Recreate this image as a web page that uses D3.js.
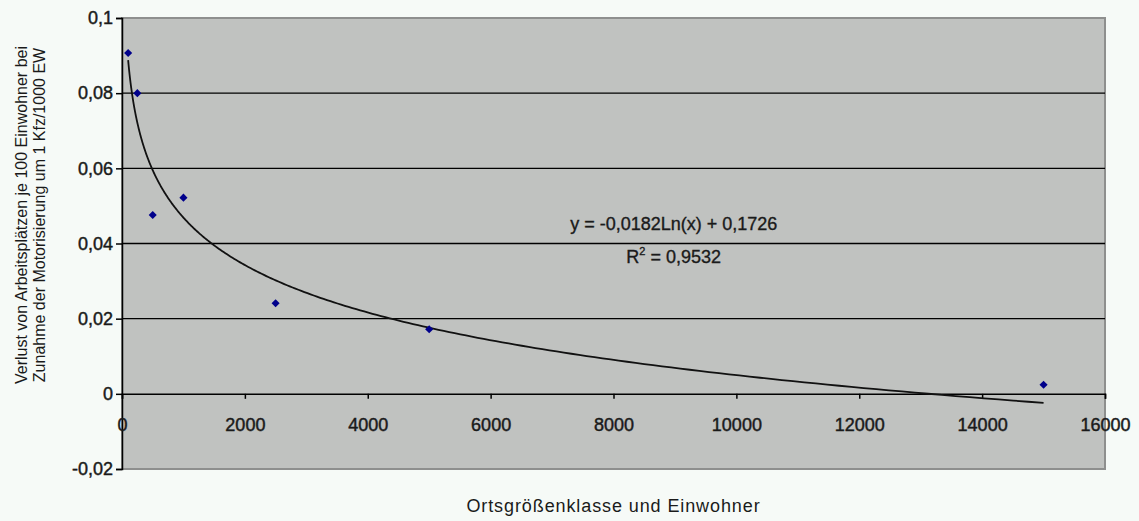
<!DOCTYPE html>
<html>
<head>
<meta charset="utf-8">
<script src="https://cdn.jsdelivr.net/npm/d3@7"></script>
<style>
  html, body { margin: 0; padding: 0; background: #f6faf7; }
  svg { display: block; font-family: Arial, "Liberation Sans", sans-serif; }
</style>
</head>
<body>
<div id="chart"></div>
<script>
// Punkte: Ortsgröße (Einwohner) und Verlust an Arbeitsplätzen
const xValues = [100, 250, 500, 1000, 2500, 5000, 15000];
const yValues = [0.0907, 0.080, 0.0476, 0.0522, 0.0241, 0.0172, 0.0024];
const xTicks = [0, 2000, 4000, 6000, 8000, 10000, 12000, 14000, 16000];
const yTicks = [-0.02, 0, 0.02, 0.04, 0.06, 0.08, 0.1];
const trendA = -0.0182;
const trendB = 0.1726;
const trendRange = [100, 15000];

const width = 1139, height = 521;
const margin = { top: 18, right: 34, bottom: 52, left: 122 };
const iw = width - margin.left - margin.right;
const ih = height - margin.top - margin.bottom;
const ink = '#1a1a1a';

const svg = d3.select('#chart').append('svg')
    .attr('width', width).attr('height', height);

const x = d3.scaleLinear().domain([0, 16000]).range([0, iw]);
const y = d3.scaleLinear().domain([-0.02, 0.1]).range([ih, 0]);
// deutsches Dezimalkomma, normaler Bindestrich als Minus
const fmt = d => String(+d.toFixed(4)).replace('.', ',');

const g = svg.append('g').attr('transform', `translate(${margin.left},${margin.top})`);

// Plotfläche
g.append('rect')
    .attr('width', iw).attr('height', ih)
    .attr('fill', '#c0c2c0')
    .attr('stroke', '#8e8f8e').attr('stroke-width', 2);

// Gitterlinien
g.selectAll('.grid').data(yTicks.filter(d => d > 0 && d < 0.1)).join('line')
    .attr('x1', 0).attr('x2', iw)
    .attr('y1', d => y(d)).attr('y2', d => y(d))
    .attr('stroke', '#000').attr('stroke-width', 1.4);

function styleLabels(sel) {
    sel.selectAll('text')
        .attr('font-size', 18).attr('fill', ink)
        .attr('stroke', ink).attr('stroke-width', 0.45);
}

// y-Achse
const yAxis = g.append('g')
    .call(d3.axisLeft(y).tickValues(yTicks).tickFormat(fmt).tickSize(6).tickPadding(3));
yAxis.select('.domain').attr('stroke', '#000').attr('stroke-width', 1.5);
yAxis.selectAll('.tick line').attr('stroke-width', 1.5);
styleLabels(yAxis);

// x-Achse auf y = 0
const xAxis = g.append('g').attr('transform', `translate(0,${y(0)})`)
    .call(d3.axisBottom(x).tickValues(xTicks).tickFormat(d3.format('d')).tickSize(5).tickPadding(19));
xAxis.select('.domain').attr('stroke', '#000').attr('stroke-width', 1.5);
xAxis.selectAll('.tick line').attr('stroke-width', 1.5);
styleLabels(xAxis);

// Trendlinie (logarithmisch)
const trendX = d3.range(0, 301).map(i => trendRange[0] * Math.pow(trendRange[1] / trendRange[0], i / 300));
g.append('path')
    .datum(trendX)
    .attr('fill', 'none').attr('stroke', '#111').attr('stroke-width', 1.8)
    .attr('d', d3.line().x(d => x(d)).y(d => y(trendA * Math.log(d) + trendB)));

// Punkte
g.selectAll('.pt').data(xValues).join('path')
    .attr('transform', (d, i) => `translate(${x(d)},${y(yValues[i])})`)
    .attr('d', d3.symbol(d3.symbolDiamond2, 42)())
    .attr('fill', '#00008b');

// Gleichung
const eqX = x(8980);
g.append('text').attr('x', eqX).attr('y', 212)
    .attr('text-anchor', 'middle').attr('font-size', 18).attr('fill', ink)
    .attr('stroke', ink).attr('stroke-width', 0.35)
    .text('y = -0,0182Ln(x) + 0,1726');
const r2 = g.append('text').attr('x', eqX).attr('y', 245)
    .attr('text-anchor', 'middle').attr('font-size', 18).attr('fill', ink)
    .attr('stroke', ink).attr('stroke-width', 0.35);
r2.append('tspan').text('R');
r2.append('tspan').attr('font-size', 11).attr('dy', -8).text('2');
r2.append('tspan').attr('dy', 8).text(' = 0,9532');

// Achsentitel
svg.append('text')
    .attr('x', margin.left + iw / 2).attr('y', 512)
    .attr('text-anchor', 'middle').attr('font-size', 18).attr('fill', ink)
    .attr('letter-spacing', 0.9)
    .text('Ortsgrößenklasse und Einwohner');

const yt = svg.append('text')
    .attr('transform', 'translate(0,215) rotate(-90)')
    .attr('text-anchor', 'middle').attr('font-size', 16).attr('fill', ink);
yt.append('tspan').attr('x', 0).attr('y', 27).text('Verlust von Arbeitsplätzen je 100 Einwohner bei');
yt.append('tspan').attr('x', 0).attr('y', 45).text('Zunahme der Motorisierung um 1 Kfz/1000 EW');
</script>
</body>
</html>
